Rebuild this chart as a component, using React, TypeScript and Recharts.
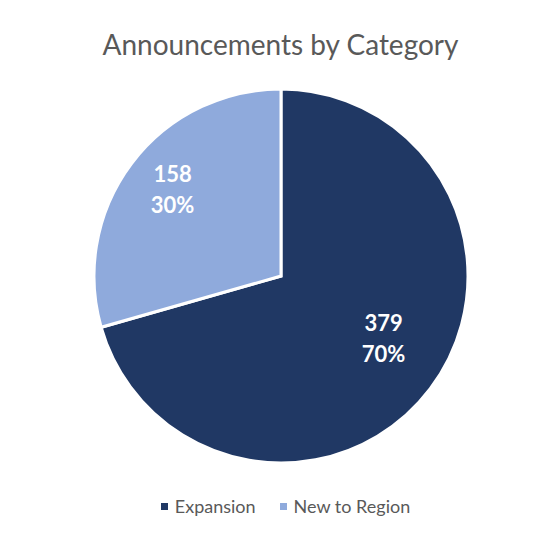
import React from 'react';
import { PieChart, Pie, Cell, Legend } from 'recharts';

const categories = ['Expansion', 'New to Region'];
const counts = [379, 158];
const percents = ['70%', '30%'];
const colors = ['#203864', '#8FAADC'];
const title = 'Announcements by Category';

const data = categories.map((name, i) => ({ name, value: counts[i], pct: percents[i] }));

const RAD = Math.PI / 180;
const labelRadiusFactor = [0.64, 0.74];
const labelNudge = [
  { dx: 7, dy: -10 },
  { dx: 2, dy: -4 },
];

const renderLabel = (props: any) => {
  const { cx, cy, midAngle, outerRadius, index, value, payload } = props;
  const r = outerRadius * labelRadiusFactor[index];
  const x = cx + r * Math.cos(-midAngle * RAD) + labelNudge[index].dx;
  const y = cy + r * Math.sin(-midAngle * RAD) + labelNudge[index].dy;
  const pct = payload?.pct ?? percents[index];
  return (
    <g>
      <text x={x} y={y - 15.5} fill="#FFFFFF" textAnchor="middle" dominantBaseline="central"
        style={{ fontFamily: 'Lato, sans-serif', fontWeight: 700, fontSize: 22 }}>
        {value}
      </text>
      <text x={x} y={y + 15.5} fill="#FFFFFF" textAnchor="middle" dominantBaseline="central"
        style={{ fontFamily: 'Lato, sans-serif', fontWeight: 700, fontSize: 22 }}>
        {pct}
      </text>
    </g>
  );
};

const renderLegend = (props: any) => {
  const { payload } = props;
  return (
    <div style={{ display: 'flex', justifyContent: 'center', alignItems: 'center', fontFamily: 'Lato, sans-serif', fontSize: 18, color: '#595959', paddingLeft: 28 }}>
      {payload.map((entry: any, i: number) => (
        <div key={i} style={{ display: 'flex', alignItems: 'center', marginRight: i === 0 ? 24 : 0 }}>
          <span style={{ display: 'inline-block', width: 7, height: 7, background: entry.color, marginRight: 7 }} />
          <span>{entry.value}</span>
        </div>
      ))}
    </div>
  );
};

export default function App() {
  return (
    <div style={{ position: 'absolute', left: 0, top: 0, width: 543, height: 558, background: '#FFFFFF' }}>
      <div style={{ position: 'absolute', left: 9, top: 26, width: 543, textAlign: 'center', fontFamily: 'Lato, sans-serif', fontSize: 28, color: '#595959', lineHeight: '36px' }}>
        {title}
      </div>
      <PieChart width={543} height={558} margin={{ top: 0, right: 0, bottom: 0, left: 0 }}>
        <Pie
          data={data}
          dataKey="value"
          nameKey="name"
          cx={281}
          cy={276}
          outerRadius={187}
          startAngle={90}
          endAngle={-270}
          stroke="#FFFFFF"
          strokeWidth={3}
          labelLine={false}
          label={renderLabel}
          isAnimationActive={false}
        >
          {data.map((d, i) => (
            <Cell key={d.name} fill={colors[i]} />
          ))}
        </Pie>
        <Legend
          verticalAlign="bottom"
          align="center"
          wrapperStyle={{ top: 495, left: 0, width: 543 }}
          content={renderLegend}
        />
      </PieChart>
    </div>
  );
}
